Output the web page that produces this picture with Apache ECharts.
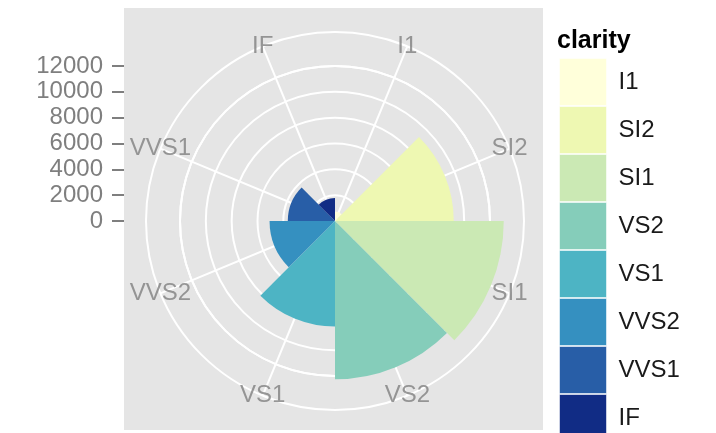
<!DOCTYPE html>
<html>
<head>
<meta charset="utf-8">
<script src="https://cdn.jsdelivr.net/npm/echarts@6/dist/echarts.min.js"></script>
<style>
  html, body { margin: 0; padding: 0; background: #ffffff; }
  #chart { width: 716px; height: 433px; }
</style>
</head>
<body>
<div id="chart"></div>
<script>
// Diamond counts by clarity, drawn as a polar bar ("coxcomb") chart
const clarity = ['I1', 'SI2', 'SI1', 'VS2', 'VS1', 'VVS2', 'VVS1', 'IF'];
const counts = [741, 9194, 13065, 12258, 8171, 5066, 3655, 1790];
const palette = ['#FFFFDA', '#EEF8B2', '#CBE9B4', '#85CDBA', '#4DB4C4', '#3590C0', '#285EA7', '#112C85'];
const radiusTicks = [0, 2000, 4000, 6000, 8000, 10000, 12000];

const FONT = "'Liberation Sans', Arial, Helvetica, sans-serif";
const CENTER = [335, 221];
const RING_TOP = 12000;            // value of the last labelled circle
const RING_PX = 155;               // its radius in pixels
const OUTER_PX = 189;              // outer ring radius
const OUTER_VALUE = OUTER_PX / RING_PX * RING_TOP;

const chart = echarts.init(document.getElementById('chart'), null, { renderer: 'canvas' });

const barSeries = clarity.map((name, i) => ({
  name: name,
  type: 'bar',
  coordinateSystem: 'polar',
  polarIndex: 0,
  barGap: '-100%',
  barCategoryGap: '0%',
  itemStyle: { color: palette[i] },
  emphasis: { disabled: true },
  data: clarity.map((c, j) => (j === i ? counts[i] : '-')),
  z: 5
}));

const option = {
  animation: false,
  backgroundColor: '#ffffff',
  textStyle: { fontFamily: FONT },
  graphic: [{
    type: 'rect',
    z: -100,
    shape: { x: 124, y: 8, width: 419, height: 422 },
    style: { fill: '#E5E5E5' }
  }],
  title: {
    text: 'clarity',
    left: 557,
    top: 29,
    padding: 0,
    textStyle: { fontFamily: FONT, fontSize: 25, fontWeight: 'bold', color: '#000000' }
  },
  legend: {
    data: clarity,
    orient: 'vertical',
    left: 559,
    top: 58,
    height: 600,
    padding: 0,
    itemWidth: 47,
    itemHeight: 47,
    itemGap: 0,
    icon: 'rect',
    selectedMode: false,
    itemStyle: { borderColor: 'rgba(255,255,255,0.55)', borderWidth: 1 },
    textStyle: { fontFamily: FONT, fontSize: 24, color: '#1A1A1A', padding: [0, 0, 0, 7] }
  },
  // left-hand radius scale
  grid: { left: 124, top: CENTER[1] - RING_PX, height: RING_PX, width: 10, show: false },
  xAxis: { type: 'value', show: false },
  yAxis: {
    type: 'value',
    min: 0,
    max: RING_TOP,
    interval: 2000,
    axisLine: { show: false },
    axisTick: { show: true, length: 12, lineStyle: { color: '#7F7F7F', width: 2 } },
    axisLabel: { margin: 21, fontSize: 24, color: '#7F7F7F', fontFamily: FONT,
                 customValues: radiusTicks, formatter: v => String(v) },
    splitLine: { show: false }
  },
  polar: [
    { center: CENTER, radius: OUTER_PX },   // bars and labels
    { center: CENTER, radius: OUTER_PX },   // spokes and outer ring
    { center: CENTER, radius: RING_PX }     // concentric circles
  ],
  angleAxis: [
    {
      polarIndex: 0, type: 'category', data: clarity, startAngle: 90, clockwise: true,
      boundaryGap: true,
      axisLine: { show: false }, axisTick: { show: false }, axisLabel: { show: false },
      splitLine: { show: false }
    },
    {
      polarIndex: 1, type: 'value', min: 0, max: 360, interval: 45,
      startAngle: 67.5, clockwise: true,
      axisLine: { show: true, lineStyle: { color: '#FFFFFF', width: 2 } },
      axisTick: { show: false }, axisLabel: { show: false },
      splitLine: { show: true, lineStyle: { color: '#FFFFFF', width: 2 } }
    },
    {
      polarIndex: 2, type: 'value', min: 0, max: 360, startAngle: 90,
      axisLine: { show: true, lineStyle: { color: '#FFFFFF', width: 2 } },
      axisTick: { show: false }, axisLabel: { show: false }, splitLine: { show: false }
    }
  ],
  radiusAxis: [
    {
      polarIndex: 0, type: 'value', min: 0, max: OUTER_VALUE,
      axisLine: { show: false }, axisTick: { show: false }, axisLabel: { show: false },
      splitLine: { show: false }
    },
    {
      polarIndex: 1, type: 'value', min: 0, max: OUTER_VALUE,
      axisLine: { show: false }, axisTick: { show: false }, axisLabel: { show: false },
      splitLine: { show: false }
    },
    {
      polarIndex: 2, type: 'value', min: 0, max: RING_TOP, interval: 2000,
      axisLine: { show: false }, axisTick: { show: false }, axisLabel: { show: false },
      splitLine: { show: true, lineStyle: { color: '#FFFFFF', width: 2 } }
    }
  ],
  series: barSeries.concat([{
    name: 'labels',
    type: 'scatter',
    coordinateSystem: 'polar',
    polarIndex: 0,
    symbolSize: 1,
    itemStyle: { color: 'rgba(0,0,0,0)' },
    silent: true,
    z: 6,
    label: {
      show: true,
      position: 'inside',
      fontFamily: FONT,
      fontSize: 24,
      color: '#7F7F7F',
      formatter: p => clarity[p.dataIndex]
    },
    data: clarity.map(c => [OUTER_VALUE, c])
  }])
};

chart.setOption(option);
</script>
</body>
</html>
